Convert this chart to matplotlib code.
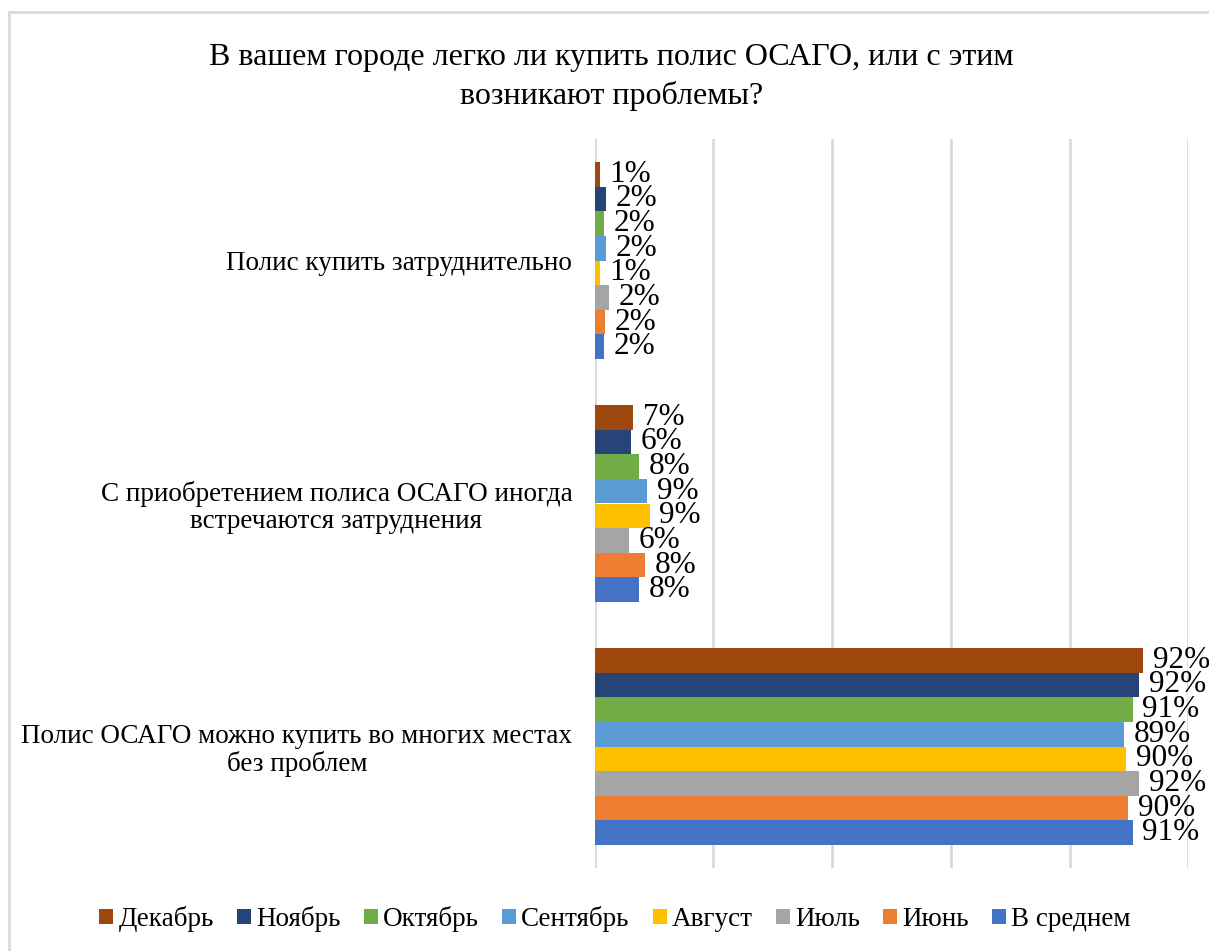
import matplotlib
matplotlib.use("Agg")
import matplotlib.pyplot as plt
from matplotlib.patches import Rectangle
import numpy as np

plt.rcParams['font.family'] = ['Liberation Serif', 'DejaVu Serif']

# data (bottom -> top inside each group, as drawn)
categories = ["Полис ОСАГО можно купить во многих местах\nбез проблем",
              "С приобретением полиса ОСАГО иногда\nвстречаются затруднения",
              "Полис купить затруднительно"]
series = ["В среднем", "Июнь", "Июль", "Август", "Сентябрь", "Октябрь", "Ноябрь", "Декабрь"]
colors = ["#4472C4", "#ED7D31", "#A5A5A5", "#FFC000", "#5B9BD5", "#70AD47", "#264478", "#9E480E"]

v_avg = [90.6, 7.55, 1.6]
v_jun = [89.8, 8.45, 1.77]
v_jul = [91.7, 5.86, 2.44]
v_aug = [89.5, 9.3, 0.87]
v_sep = [89.1, 8.9, 1.94]
v_oct = [90.6, 7.55, 1.55]
v_nov = [91.7, 6.1, 1.94]
v_dec = [92.4, 6.55, 0.93]
values = [v_avg, v_jun, v_jul, v_aug, v_sep, v_oct, v_nov, v_dec]

title = "В вашем городе легко ли купить полис ОСАГО, или с этим\nвозникают проблемы?"

fig = plt.figure(figsize=(12.09, 9.51), dpi=100)
ax = fig.add_axes([594.5 / 1209, 1 - 868 / 951, (1188.5 - 594.5) / 1209, (868 - 139) / 951])

y = np.arange(len(categories))
n = len(series)
group_h = 0.81
bh = group_h / n

for i, (name, vals, c) in enumerate(zip(series, values, colors)):
    pos = y - group_h / 2 + bh * (i + 0.5)
    bars = ax.barh(pos, vals, height=bh, color=c, label=name, zorder=3)
    for b, v in zip(bars, vals):
        ax.annotate(f"{v:.0f}%", (b.get_width(), b.get_y() + b.get_height() / 2),
                    xytext=(7, 0), textcoords="offset points",
                    ha="left", va="center", fontsize=22.5, color="#000000", zorder=4)

ax.set_xlim(0, 100)
ax.set_ylim(-0.5, len(categories) - 0.5)
ax.set_xticks([0, 20, 40, 60, 80, 100])
ax.set_xticklabels([])
ax.tick_params(axis="x", length=0)
ax.grid(axis="x", color="#D9D9D9", linewidth=2, zorder=0)
ax.set_yticks(y)
ax.set_yticklabels(categories, fontsize=19.5, multialignment="center", linespacing=1.1)
ax.tick_params(axis="y", length=0, pad=16)
for s in ax.spines.values():
    s.set_visible(False)

fig.text(0.506, 1 - 77 / 951, title, ha="center", va="center", fontsize=23,
         multialignment="center", linespacing=1.4, color="#000000")

handles, labels = ax.get_legend_handles_labels()
fig.legend(handles[::-1], labels[::-1], loc="center", bbox_to_anchor=(615 / 1209, 1 - 919 / 951),
           ncol=8, frameon=False, fontsize=19.5, handlelength=0.52, handleheight=0.52,
           handletextpad=0.19, columnspacing=0.85, borderpad=0, borderaxespad=0)

fig.patches.append(Rectangle((9 / 1209, -0.1), 1.2, 1 - 12 / 951 + 0.1, transform=fig.transFigure,
                             fill=False, edgecolor="#D9D9D9", linewidth=2))

fig.savefig("out.png", dpi=100)
